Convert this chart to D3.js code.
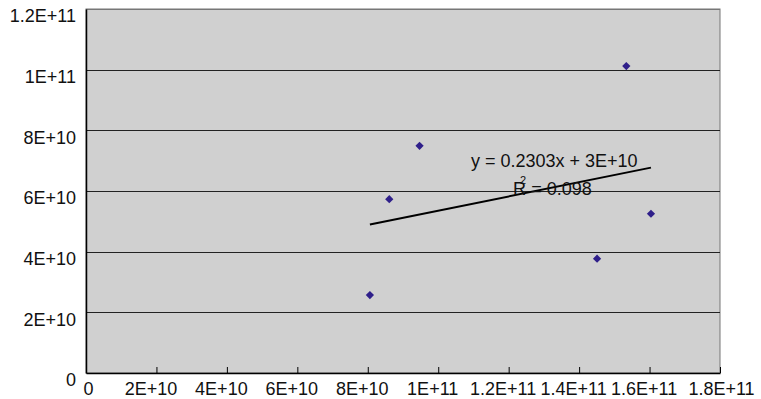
<!DOCTYPE html>
<html>
<head>
<meta charset="utf-8">
<script src="https://cdn.jsdelivr.net/npm/d3@7/dist/d3.min.js"></script>
<style>
  body { margin: 0; background: #fff; }
  svg { display: block; font-family: "Liberation Sans", Arial, sans-serif; }
</style>
</head>
<body>
<div id="chart"></div>
<script>
// data
const xValues = [8.06e10, 8.61e10, 9.47e10, 1.534e11, 1.451e11, 1.604e11];
const yValues = [2.57e10, 5.73e10, 7.49e10, 1.012e11, 3.77e10, 5.25e10];
const xTicks = [0, 2e10, 4e10, 6e10, 8e10, 1e11, 1.2e11, 1.4e11, 1.6e11, 1.8e11];
const xTickLabels = ['0', '2E+10', '4E+10', '6E+10', '8E+10', '1E+11', '1.2E+11', '1.4E+11', '1.6E+11', '1.8E+11'];
const yTicks = [0, 2e10, 4e10, 6e10, 8e10, 1e11, 1.2e11];
const yTickLabels = ['0', '2E+10', '4E+10', '6E+10', '8E+10', '1E+11', '1.2E+11'];
const equationText = 'y = 0.2303x + 3E+10';
const rSquaredText = '0.098';

const width = 761, height = 399;
const plot = { left: 86, right: 720, top: 9, bottom: 373 };
const fontSize = '18px';

const svg = d3.select('#chart').append('svg')
  .attr('width', width)
  .attr('height', height);

const x = d3.scaleLinear().domain([0, 1.8e11]).range([plot.left, plot.right]);
const y = d3.scaleLinear().domain([0, 1.2e11]).range([plot.bottom, plot.top]);

// plot background
svg.append('rect')
  .attr('x', plot.left)
  .attr('y', plot.top)
  .attr('width', plot.right - plot.left)
  .attr('height', plot.bottom - plot.top)
  .attr('fill', '#d0d0d0')
  .attr('stroke', '#777')
  .attr('stroke-width', 1);

// gridlines
svg.append('g')
  .selectAll('line')
  .data(yTicks.slice(1))
  .enter()
  .append('line')
  .attr('x1', plot.left)
  .attr('x2', plot.right)
  .attr('y1', d => Math.round(y(d)) + 0.5)
  .attr('y2', d => Math.round(y(d)) + 0.5)
  .attr('stroke', d => d === 1.2e11 ? '#777' : '#222')
  .attr('stroke-width', 1);

// x axis
const xAxis = d3.axisBottom(x)
  .tickValues(xTicks)
  .tickFormat((d, i) => xTickLabels[i])
  .tickSizeInner(-6)
  .tickSizeOuter(0)
  .tickPadding(9);

const gx = svg.append('g')
  .attr('transform', `translate(0,${plot.bottom})`)
  .call(xAxis);
gx.select('.domain').attr('stroke', '#000').attr('stroke-width', 1.5);
gx.selectAll('.tick line').attr('stroke', '#000');
gx.selectAll('.tick text')
  .attr('fill', '#111')
  .attr('font-size', fontSize)
  .attr('dx', (d, i) => i === 0 ? 2 : (i === xTicks.length - 1 ? 1 : -6));

// y axis
const yAxis = d3.axisLeft(y)
  .tickValues(yTicks)
  .tickFormat((d, i) => yTickLabels[i])
  .tickSizeInner(0)
  .tickSizeOuter(0)
  .tickPadding(10);

const gy = svg.append('g')
  .attr('transform', `translate(${plot.left},0)`)
  .call(yAxis);
gy.select('.domain').attr('stroke', '#000').attr('stroke-width', 1.5);
gy.selectAll('.tick text')
  .attr('fill', '#111')
  .attr('font-size', fontSize)
  .attr('dy', '0.72em');

// linear trend line from the points
const pts = xValues.map((v, i) => [v, yValues[i]]);
const mx = d3.mean(xValues), my = d3.mean(yValues);
const sxy = d3.sum(pts, p => (p[0] - mx) * (p[1] - my));
const sxx = d3.sum(pts, p => (p[0] - mx) * (p[0] - mx));
const slope = sxy / sxx;
const intercept = my - slope * mx;
const xExt = d3.extent(xValues);

svg.append('line')
  .attr('x1', x(xExt[0]))
  .attr('y1', y(slope * xExt[0] + intercept))
  .attr('x2', x(xExt[1]))
  .attr('y2', y(slope * xExt[1] + intercept))
  .attr('stroke', '#000')
  .attr('stroke-width', 2);

// points (diamonds: squares turned 45 degrees)
svg.append('g')
  .selectAll('path')
  .data(pts)
  .enter()
  .append('path')
  .attr('d', d3.symbol().type(d3.symbolSquare).size(34))
  .attr('transform', d => `translate(${x(d[0])},${y(d[1])}) rotate(45)`)
  .attr('fill', '#2f1f8a');

// trend line labels
svg.append('text')
  .attr('x', 471)
  .attr('y', 167)
  .attr('font-size', fontSize)
  .attr('fill', '#111')
  .text(equationText);

const r2 = svg.append('text')
  .attr('x', 513)
  .attr('y', 195)
  .attr('font-size', fontSize)
  .attr('fill', '#111');
r2.append('tspan').text('R');
r2.append('tspan')
  .attr('dx', -6)
  .attr('dy', -11)
  .attr('font-size', '11px')
  .text('2');
r2.append('tspan')
  .attr('dy', 11)
  .text(' = ' + rSquaredText);
</script>
</body>
</html>
